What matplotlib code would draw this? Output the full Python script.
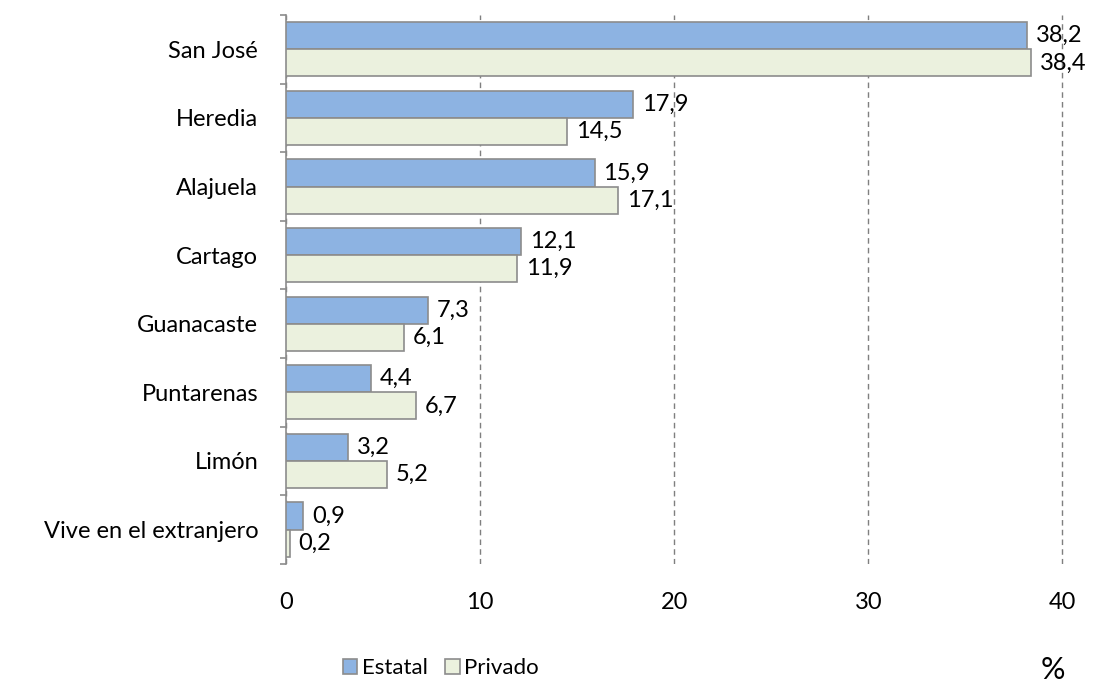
import numpy as np
import matplotlib
matplotlib.use("Agg")
import matplotlib.pyplot as plt
from matplotlib.ticker import FixedLocator

categories = ["San José", "Heredia", "Alajuela", "Cartago", "Guanacaste",
              "Puntarenas", "Limón", "Vive en el extranjero"]
estatal = [38.2, 17.9, 15.9, 12.1, 7.3, 4.4, 3.2, 0.9]
privado = [38.4, 14.5, 17.1, 11.9, 6.1, 6.7, 5.2, 0.2]
xticks = [0, 10, 20, 30, 40]

plt.rcParams['font.family'] = ['Lato', 'DejaVu Sans']
fs = 17

fig = plt.figure(figsize=(11.02, 6.86), dpi=100)
ax = fig.add_axes([0.2595, 0.178, 0.706, 0.80])

n = len(categories)
y = np.arange(n)
h = 0.395
edge = "#8c8c8c"
ax.barh(y - h / 2, estatal, height=h, color="#8DB3E2", edgecolor=edge, linewidth=1.2, label="Estatal", zorder=3)
ax.barh(y + h / 2, privado, height=h, color="#EBF1DE", edgecolor=edge, linewidth=1.2, label="Privado", zorder=3)

for i in range(n):
    ax.text(estatal[i] + 0.45, y[i] - h / 2, f"{estatal[i]:.1f}".replace(".", ","),
            va="center", ha="left", fontsize=fs)
    ax.text(privado[i] + 0.45, y[i] + h / 2, f"{privado[i]:.1f}".replace(".", ","),
            va="center", ha="left", fontsize=fs)

ax.set_ylim(n - 0.5, -0.5)
ax.set_xlim(0, 40.08)
ax.set_yticks(y)
ax.set_yticklabels(categories, fontsize=fs)
ax.yaxis.set_minor_locator(FixedLocator(np.arange(-0.5, n, 1)))
ax.tick_params(axis="y", which="major", length=0, pad=20)
ax.tick_params(axis="y", which="minor", length=4.5, color=edge, width=1.2)
ax.set_xticks(xticks)
ax.set_xticklabels([str(t) for t in xticks], fontsize=fs)
ax.tick_params(axis="x", length=0, pad=20)

ax.grid(axis="x", linestyle=(0, (4, 3)), color="#7f7f7f", linewidth=1, zorder=0)
for s in ["top", "right", "bottom"]:
    ax.spines[s].set_visible(False)
ax.spines["left"].set_color(edge)
ax.spines["left"].set_linewidth(1.2)

fig.legend(*ax.get_legend_handles_labels(), loc="center", bbox_to_anchor=(0.40, 0.026),
           ncol=2, frameon=False, fontsize=16, handlelength=0.65, handleheight=0.65,
           handletextpad=0.2, columnspacing=0.8, borderpad=0)
fig.text(0.955, 0.003, "%", fontsize=22, ha="center", va="bottom")

fig.savefig("out.png", dpi=100)
